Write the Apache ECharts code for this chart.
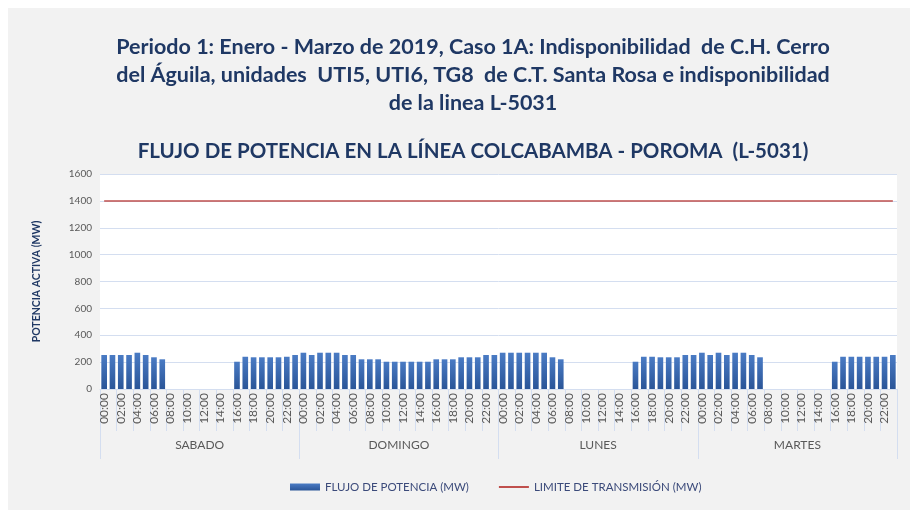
<!DOCTYPE html>
<html>
<head>
<meta charset="utf-8">
<script src="https://cdn.jsdelivr.net/npm/echarts@6/dist/echarts.min.js"></script>
<style>
html,body{margin:0;padding:0;background:#ffffff;}
#c{width:923px;height:516px;}
</style>
</head>
<body>
<div id="c"></div>
<script>
const days = ["SABADO", "DOMINGO", "LUNES", "MARTES"];
const hours = ["00:00","01:00","02:00","03:00","04:00","05:00","06:00","07:00","08:00","09:00","10:00","11:00",
               "12:00","13:00","14:00","15:00","16:00","17:00","18:00","19:00","20:00","21:00","22:00","23:00"];
const flujoSabado  = [253,253,253,253,270,253,236,221,0,0,0,0,0,0,0,0,203,240,236,236,236,236,240,253];
const flujoDomingo = [270,253,270,270,270,253,253,221,221,221,203,203,203,203,203,203,221,221,221,236,236,236,253,253];
const flujoLunes   = [270,270,270,270,270,270,236,221,0,0,0,0,0,0,0,0,203,240,240,236,236,236,253,253];
const flujoMartes  = [270,253,270,253,270,270,253,236,0,0,0,0,0,0,0,0,203,240,240,240,240,240,240,253];
const limiteTransmision = 1400;
const yTicks = {min: 0, max: 1600, interval: 200};

const categories = [];
days.forEach(() => hours.forEach(h => categories.push(h)));
const flujo = [].concat(flujoSabado, flujoDomingo, flujoLunes, flujoMartes);
const limite = categories.map(() => limiteTransmision);

const navy = '#1f3864';
const axisTxt = '#595959';
const gridCol = '#d4def0';
const FONT = 'Lato';

const chart = echarts.init(document.getElementById('c'), null, {renderer: 'canvas'});
chart.setOption({
  animation: false,
  backgroundColor: '#ffffff',
  graphic: [{
    type: 'rect', z: -10, silent: true,
    shape: {x: 8, y: 8, width: 902, height: 502},
    style: {fill: '#f2f2f2'}
  }],
  title: [{
    text: 'Periodo 1: Enero - Marzo de 2019, Caso 1A: Indisponibilidad  de C.H. Cerro\ndel Águila, unidades  UTI5, UTI6, TG8  de C.T. Santa Rosa e indisponibilidad\nde la linea L-5031',
    left: 468, top: 28, textAlign: 'center',
    textStyle: {fontFamily: FONT, fontWeight: 'bold', fontSize: 21.5, lineHeight: 28, color: navy}
  }, {
    text: 'FLUJO DE POTENCIA EN LA LÍNEA COLCABAMBA - POROMA  (L-5031)',
    left: 468, top: 136, textAlign: 'center',
    textStyle: {fontFamily: FONT, fontWeight: 'bold', fontSize: 20.5, color: navy}
  }],
  legend: {
    top: 476, left: 285,
    itemWidth: 30, itemHeight: 7, itemGap: 29,
    textStyle: {fontFamily: FONT, fontSize: 11.5, color: '#3b4a7a'},
    data: [{name: 'FLUJO DE POTENCIA (MW)', icon: 'rect'},
           {name: 'LIMITE DE TRANSMISIÓN (MW)', itemStyle: {opacity: 0}}]
  },
  grid: {left: 100, right: 26, top: 174, bottom: 127, show: true, backgroundColor: '#ffffff', borderWidth: 0},
  xAxis: [{
    type: 'category', data: categories, position: 'bottom',
    axisLine: {show: true, lineStyle: {color: gridCol}},
    axisTick: {show: true, interval: 1, length: 42, lineStyle: {color: gridCol}},
    axisLabel: {interval: 1, rotate: 90, fontFamily: FONT, fontSize: 12, color: axisTxt, margin: 4},
    splitLine: {show: false}
  }, {
    type: 'category', data: days, position: 'bottom',
    axisLine: {show: false},
    axisTick: {show: true, length: 70, lineStyle: {color: gridCol}},
    axisLabel: {fontFamily: FONT, fontSize: 12, color: axisTxt, margin: 50},
    splitLine: {show: false}
  }],
  yAxis: {
    type: 'value', min: yTicks.min, max: yTicks.max, interval: yTicks.interval,
    name: 'POTENCIA ACTIVA (MW)', nameLocation: 'middle', nameGap: 58, nameRotate: 90,
    nameTextStyle: {fontFamily: FONT, fontSize: 10.5, fontWeight: 'bold', color: navy},
    axisLine: {show: false}, axisTick: {show: false},
    axisLabel: {fontFamily: FONT, fontSize: 10, color: axisTxt, margin: 8, formatter: v => String(v)},
    splitLine: {lineStyle: {color: gridCol}}
  },
  series: [{
    name: 'FLUJO DE POTENCIA (MW)', type: 'bar', data: flujo, xAxisIndex: 0,
    barCategoryGap: '32%',
    itemStyle: {color: new echarts.graphic.LinearGradient(0, 0, 0, 1, [
      {offset: 0, color: '#4a7bc4'}, {offset: 1, color: '#2a5598'}])}
  }, {
    name: 'LIMITE DE TRANSMISIÓN (MW)', type: 'line', data: limite, xAxisIndex: 0,
    symbol: 'none', lineStyle: {color: '#c0504d', width: 1.5}, itemStyle: {color: '#c0504d'}
  }]
});
</script>
</body>
</html>
